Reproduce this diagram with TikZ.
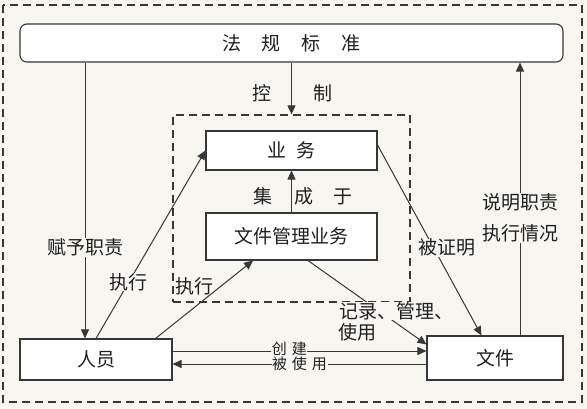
\documentclass[tikz,border=0pt]{standalone}
\usepackage{fontspec}
\newfontfamily\cjk{Noto Sans CJK SC}
\usetikzlibrary{arrows.meta,positioning,calc}
\definecolor{bgpaper}{RGB}{247,246,241}
\definecolor{ink}{RGB}{55,55,55}

\begin{document}
\begin{tikzpicture}[
  x=1pt,y=-1pt,
  font=\cjk\fontsize{19}{23}\selectfont,
  box/.style={draw=ink,line width=1.1pt,fill=white,inner sep=0pt,text=black!88},
  zone/.style={draw=ink,line width=1.3pt,dash pattern=on 8pt off 5pt,inner sep=0pt},
  ar/.style={-{Triangle[length=9pt,width=8pt]},draw=ink,line width=1pt},
  lbl/.style={inner sep=0.5pt,text=black!88},
  gap/.style={lbl,fill=bgpaper},
  small/.style={font=\cjk\fontsize{15}{17}\selectfont}
]
\fill[bgpaper] (0,0) rectangle (587,409);
\useasboundingbox (0,0) rectangle (587,409);
\draw[zone] (3,5) rectangle (582,402);

\node[box,rounded corners=7pt,minimum width=543pt,minimum height=38pt] (fagui) at (291.5,43)
  {法\hspace{21pt}规\hspace{21pt}标\hspace{21pt}准};
\node[zone,minimum width=237pt,minimum height=187pt] (core) at (291.5,208.5) {};
\node[box,minimum width=171pt,minimum height=39pt] (yewu) at (291.5,150.5) {业\hspace{11pt}务};
\node[box,minimum width=171pt,minimum height=47pt] (wjgl) at (291.5,236.5) {文件管理业务};
\node[box,minimum width=152pt,minimum height=41pt] (renyuan) at (96,359.5) {人员\hspace{34pt}};
\node[box,minimum width=136pt,minimum height=44pt] (wenjian) at (495,358) {文件};

\coordinate (fy) at ($(renyuan.north)+(-11,0)$);
\coordinate (sm) at ($(wenjian.north)+(25,0)$);
\coordinate (cj) at ($(renyuan.east)+(0,-8.5)$);
\coordinate (bs) at ($(renyuan.east)+(0,4.5)$);

\draw[ar] (fagui.south) -- node[lbl,pos=0.59,left=19pt] {控}
  node[lbl,pos=0.59,right=21pt] {制} (core.north);
\draw[ar] (wjgl.north) -- node[lbl,pos=0.38,left=18pt] {集}
  node[lbl,pos=0.38,right=1.5pt] {成\hspace{21pt}于} (yewu.south);
\draw[ar] (fagui.south -| fy) -- node[gap,pos=0.67] {赋予职责} (fy);
\draw[ar] (renyuan.north) -- node[gap,pos=0.3] {执行} (yewu.west);
\draw[ar] ($(renyuan.north east)+(-17,0)$) -- node[lbl,pos=0.4,yshift=21pt] {执行}
  ($(wjgl.south)+(-38.5,0)$);
\draw[ar] ($(wjgl.south)+(16.5,0)$) -- node[gap,pos=0.6,xshift=17pt] (jl) {记录、管理、}
  ($(wenjian.north west)+(0,9)$);
\node[lbl,anchor=north west] (sy) at ($(jl.south west)+(0,2)$) {使用};
\draw[ar] ($(yewu.east)+(0,-5.5)$) -- node[gap,pos=0.54,xshift=13pt] {被证明}
  ($(wenjian.north west)+(55,0)$);
\draw[ar] (sm) -- node[gap,pos=0.43,align=center,font=\cjk\fontsize{19}{31}\selectfont]
  {说明职责\\执行情况} (fagui.south -| sm);
\draw[ar] (cj) -- node[gap,small,pos=0.46,yshift=2pt] {创\hspace{5pt}建} (cj -| wenjian.west);
\draw[ar] (bs -| wenjian.west) -- node[gap,small,pos=0.5] {被\hspace{5pt}使\hspace{5pt}用} (bs);
\end{tikzpicture}
\end{document}
